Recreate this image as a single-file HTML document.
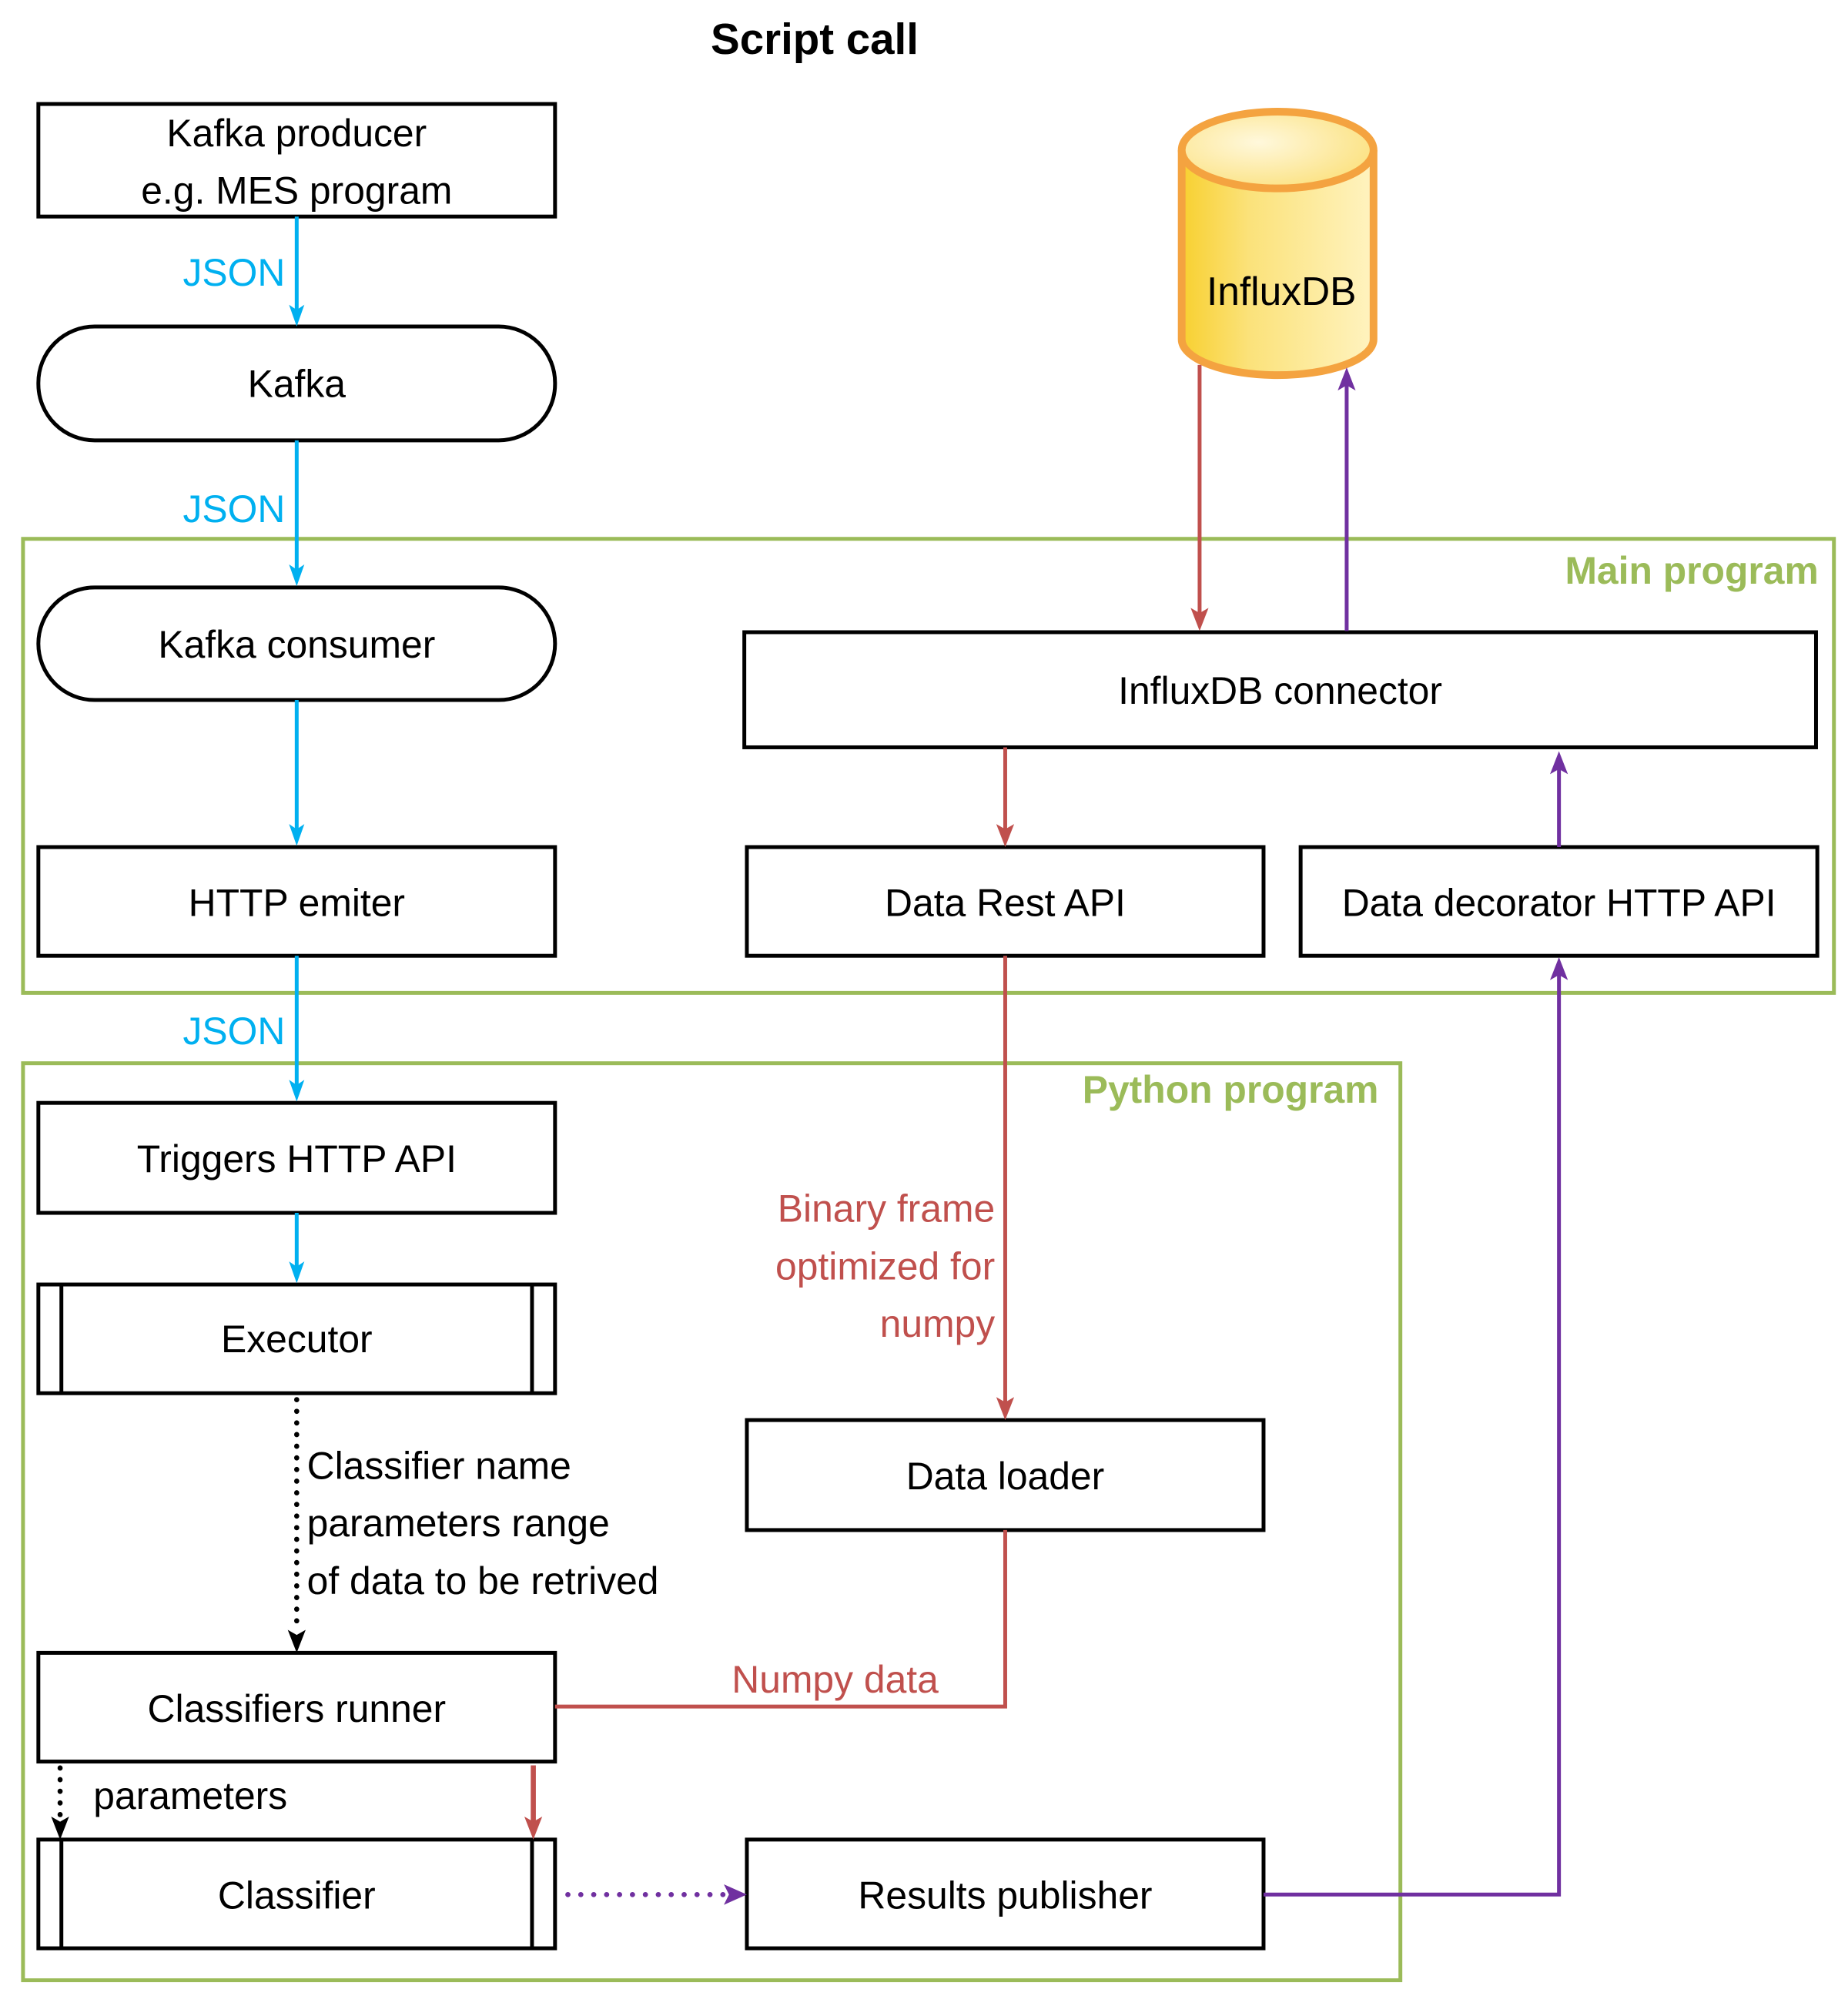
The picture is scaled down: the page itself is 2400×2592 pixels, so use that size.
<!DOCTYPE html>
<html><head><meta charset="utf-8"><style>
html,body{margin:0;padding:0;background:#fff}
svg{display:block}
text{font-family:"Liberation Sans",sans-serif;}
</style></head><body>
<svg width="2400" height="2592" viewBox="0 0 1445 1560" xmlns="http://www.w3.org/2000/svg">
<defs>
<linearGradient id="cyl" x1="0" x2="1" y1="0" y2="0">
<stop offset="0" stop-color="#f8d030"/><stop offset="0.35" stop-color="#fbe27a"/><stop offset="1" stop-color="#fff3c0"/></linearGradient>
<radialGradient id="top" cx="0.4" cy="0.4" r="0.7"><stop offset="0" stop-color="#fff8dc"/><stop offset="1" stop-color="#fbe07a"/></radialGradient>
</defs>

<text x="637" y="42" font-size="34" font-weight="bold" text-anchor="middle">Script call</text>

<rect x="18" y="421" width="1416" height="355" fill="none" stroke="#9bbb59" stroke-width="3"/>
<text x="1422" y="456" font-size="30" font-weight="bold" fill="#9bbb59" text-anchor="end">Main program</text>
<rect x="18" y="831" width="1077" height="717" fill="none" stroke="#9bbb59" stroke-width="3"/>
<text x="1078" y="862" font-size="30" font-weight="bold" fill="#9bbb59" text-anchor="end">Python program</text>

<g fill="#fff" stroke="#000" stroke-width="3">
<rect x="30" y="81" width="404" height="88"/>
<rect x="30" y="255" width="404" height="89" rx="44"/>
<rect x="30" y="459" width="404" height="88" rx="44"/>
<rect x="30" y="662" width="404" height="85"/>
<rect x="30" y="862" width="404" height="86"/>
<rect x="30" y="1004" width="404" height="85"/>
<rect x="30" y="1292" width="404" height="85"/>
<rect x="30" y="1438" width="404" height="85"/>
<rect x="582" y="494" width="838" height="90"/>
<rect x="584" y="662" width="404" height="85"/>
<rect x="1017" y="662" width="404" height="85"/>
<rect x="584" y="1110" width="404" height="86"/>
<rect x="584" y="1438" width="404" height="85"/>
</g>
<g stroke="#000" stroke-width="3">
<line x1="48" y1="1004" x2="48" y2="1089"/><line x1="416" y1="1004" x2="416" y2="1089"/>
<line x1="48" y1="1438" x2="48" y2="1523"/><line x1="416" y1="1438" x2="416" y2="1523"/>
</g>

<path d="M924,117 L924,265 A75,28 0 0 0 1074,265 L1074,117" fill="url(#cyl)" stroke="#f4a340" stroke-width="6"/>
<ellipse cx="999" cy="117" rx="75" ry="30" fill="url(#top)" stroke="#f4a340" stroke-width="6"/>
<text x="1002" y="238" font-size="31" text-anchor="middle">InfluxDB</text>

<g font-size="30" text-anchor="middle">
<text x="232" y="114">Kafka producer</text>
<text x="232" y="159">e.g. MES program</text>
<text x="232" y="310">Kafka</text>
<text x="232" y="514">Kafka consumer</text>
<text x="232" y="716">HTTP emiter</text>
<text x="232" y="916">Triggers HTTP API</text>
<text x="232" y="1057">Executor</text>
<text x="232" y="1346">Classifiers runner</text>
<text x="232" y="1492">Classifier</text>
<text x="1001" y="550">InfluxDB connector</text>
<text x="786" y="716">Data Rest API</text>
<text x="1219" y="716">Data decorator HTTP API</text>
<text x="786" y="1164">Data loader</text>
<text x="786" y="1492">Results publisher</text>
</g>

<!-- blue -->
<g stroke="#00b0f0" stroke-width="3">
<line x1="232" y1="169" x2="232" y2="245"/>
<line x1="232" y1="344" x2="232" y2="448"/>
<line x1="232" y1="547" x2="232" y2="651"/>
<line x1="232" y1="747" x2="232" y2="851"/>
<line x1="232" y1="948" x2="232" y2="993"/>
</g>
<g fill="#00b0f0">
<polygon points="226,238 232,255 238,238 232,242"/>
<polygon points="226,441 232,458 238,441 232,445"/>
<polygon points="226,644 232,661 238,644 232,648"/>
<polygon points="226,844 232,861 238,844 232,848"/>
<polygon points="226,986 232,1003 238,986 232,990"/>
</g>
<g fill="#00b0f0" font-size="30" text-anchor="middle">
<text x="183" y="223">JSON</text>
<text x="183" y="408">JSON</text>
<text x="183" y="816">JSON</text>
</g>

<!-- red -->
<g stroke="#c0504d" stroke-width="3" fill="none">
<line x1="938" y1="285" x2="938" y2="482"/>
<line x1="786" y1="584" x2="786" y2="651"/>
<line x1="786" y1="747" x2="786" y2="1098"/>
<polyline points="786,1196 786,1334 434,1334"/>
<line x1="417" y1="1380" x2="417" y2="1426" stroke-width="4"/>
</g>
<g fill="#c0504d">
<polygon points="931,475 938,493 945,475 938,479"/>
<polygon points="779,644 786,662 793,644 786,648"/>
<polygon points="779,1092 786,1110 793,1092 786,1096"/>
<polygon points="410,1420 417,1438 424,1420 417,1424"/>
</g>
<g fill="#c0504d" font-size="30">
<text x="778" y="955" text-anchor="end">Binary frame</text>
<text x="778" y="1000" text-anchor="end">optimized for</text>
<text x="778" y="1045" text-anchor="end">numpy</text>
<text x="653" y="1323" text-anchor="middle">Numpy data</text>
</g>

<!-- purple -->
<g stroke="#7030a0" stroke-width="3" fill="none">
<line x1="1053" y1="493" x2="1053" y2="298"/>
<line x1="1219" y1="662" x2="1219" y2="598"/>
<polyline points="988,1481 1219,1481 1219,758"/>
<line x1="444" y1="1481" x2="566" y2="1481" stroke-dasharray="0.1,10" stroke-linecap="round" stroke-width="4"/>
</g>
<g fill="#7030a0">
<polygon points="1046,305 1053,287 1060,305 1053,301"/>
<polygon points="1212,605 1219,587 1226,605 1219,601"/>
<polygon points="1212,766 1219,748 1226,766 1219,762"/>
<polygon points="566,1473 584,1481 566,1489 570,1481"/>
</g>

<!-- black dotted -->
<g stroke="#000" stroke-width="4" fill="none" stroke-dasharray="0.1,9" stroke-linecap="round">
<line x1="232" y1="1094" x2="232" y2="1276"/>
<line x1="47" y1="1382" x2="47" y2="1422"/>
</g>
<g fill="#000">
<polygon points="225,1274 232,1292 239,1274 232,1278"/>
<polygon points="40,1420 47,1438 54,1420 47,1424"/>
</g>
<g font-size="30">
<text x="240" y="1156">Classifier name</text>
<text x="240" y="1201">parameters range</text>
<text x="240" y="1246">of data to be retrived</text>
<text x="73" y="1414">parameters</text>
</g>
</svg>
</body></html>
